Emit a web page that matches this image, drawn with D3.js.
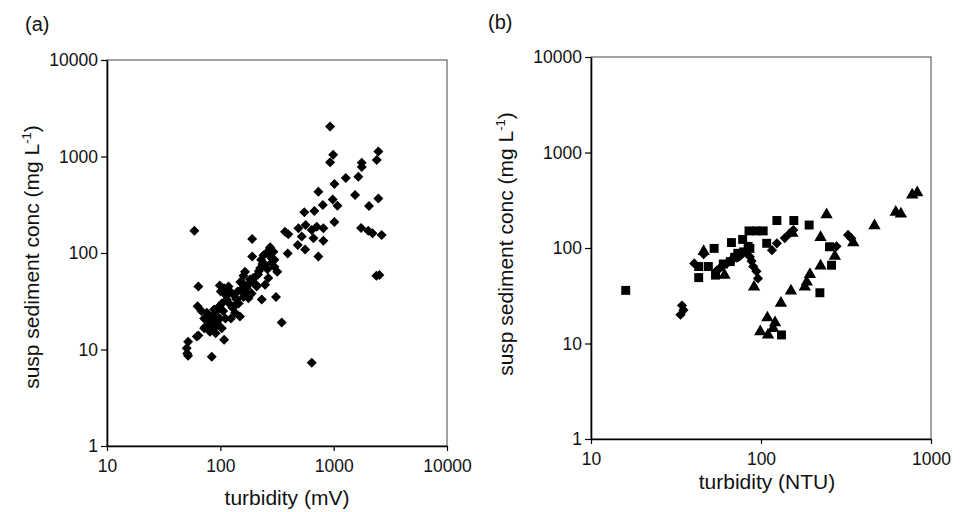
<!DOCTYPE html>
<html>
<head>
<meta charset="utf-8">
<script src="https://cdn.jsdelivr.net/npm/d3@7"></script>
<style>
  body { margin: 0; background: #fff; }
  svg text { font-family: "Liberation Sans", Arial, sans-serif; fill: #111; }
</style>
</head>
<body>
<div id="chart"></div>
<script>
// panel (a): turbidity (mV) vs susp sediment conc (mg/L)
let pointsA = [
  [59,170],[930,2050],[990,1040],[930,870],[2480,1130],[2400,920],[1770,860],[1770,780],
  [1650,618],[1280,600],[1545,399],[1015,520],[733,430],[980,358],[1080,309],[802,314],
  [551,264],[676,272],[1015,210],[2050,307],[2480,368],[1745,182],[2020,170],[2200,160],
  [2650,154],[2380,58],[2530,59],[641,7.3],[348,19],[310,35],[84,8.4],[108,12.6],
  [372,166],[398,156],[489,180],[566,195],[523,148],[640,173],[709,187],[811,180],
  [663,142],[811,134],[482,121],[560,109],[393,99],[733,92],[275,115],[294,103],
  [266,99],[284,88],[191,140],[191,92],[318,64],[265,55],[248,47],[232,33],[207,47],
  [189,52],[151,41],[165,64],[183,53],[160,48],[171,43],[189,38],[177,34],[209,45],
  [205,57],[219,65],[235,77],[229,85],[275,112],[250,75],[260,68],[285,80],[300,85],
  [240,95],[255,100],[225,70],[215,60],[300,72],
  [64,45],[63,28],[68,25],[72,21],[64,14],[62,13.6],[52,12],[50.5,10.3],[51,9.1],
  [52,8.6],[78,20],[72,16.6],[99,46],[108,43],[119,41],[130,37],[139,33],[133,28],
  [149,22],[135,24],[114,33],[103,30],[96,26],[106,25],[90,23],[99,21],[84,20],
  [93,19],[78,17.5],[87,16.6],[73,17],[81,15.3],[91,14.7],[103,16.6],[111,21],
  [124,21],[118,45],[101,40],[110,38],[120,30],[128,27],[95,18],[85,22],[76,24],
  [88,26],[98,28],[113,36],[142,40],[160,35],[170,38],[145,30],[180,48],[195,55],
  [160,58],[150,50]
];

// panel (b): turbidity (NTU), three symbol series
let squaresB = [
  [16,36],[43,49],[43,64],[49,64],[53,99],[54,52],[67,114],[78,123],[85,151],[94,151],
  [103,151],[86,99],[108,112],[124,194],[156,194],[192,174],[253,103],[260,66],[222,34],
  [132,12.3],[73,88],[79,91],[84,104],[66,72],[60,68],[70,80]
];
let diamondsB = [
  [34.3,25],[35,22.4],[33.6,20],[40.5,69],[46,86],[55,58],[59,64],[63,69],[67,75],
  [72,79],[77,86],[82,93],[86,81],[88,73],[90,64],[94,57],[96,48],[116,95],[124,112],
  [138,127],[148,143],[155,154],[278,104],[325,137],[340,126],[57,61],[69,78],[75,82]
];
let trianglesB = [
  [46,92],[61,52],[91,39],[153,143],[243,223],[224,129],[272,82],[224,65],[194,53],
  [186,44],[181,39],[150,35.5],[131,26.4],[109,18.6],[121,16.5],[99,13.3],[110,12.3],
  [118,14.4],[349,114],[465,171],[620,237],[665,228],[775,359],[830,379]
];

let yTicks = [1, 10, 100, 1000, 10000];
let xTicksA = [10, 100, 1000, 10000];
let xTicksB = [10, 100, 1000];

let svg = d3.select('#chart').append('svg')
  .attr('width', 969)
  .attr('height', 512);

function drawPanel(p) {
  let g = svg.append('g').attr('transform', `translate(${p.left}, ${p.top})`);

  let x = d3.scaleLog().domain(p.xDomain).range([0, p.width]);
  let y = d3.scaleLog().domain([1, 10000]).range([p.height, 0]);

  // thin frame for top / right
  g.append('rect')
    .attr('width', p.width).attr('height', p.height)
    .attr('fill', 'none').attr('stroke', '#444').attr('stroke-width', 1);

  let yAxis = d3.axisLeft(y).tickValues(yTicks).tickFormat(d3.format('d'))
    .tickSize(6).tickSizeOuter(0).tickPadding(3);
  let xAxis = d3.axisBottom(x).tickValues(p.xTicks).tickFormat(d3.format('d'))
    .tickSize(5).tickSizeOuter(0).tickPadding(9);

  let ya = g.append('g').call(yAxis);
  let xa = g.append('g').attr('transform', `translate(0, ${p.height})`).call(xAxis);
  [ya, xa].forEach(a => {
    a.select('.domain').attr('stroke', '#000').attr('stroke-width', 1.6);
    a.selectAll('.tick line').attr('stroke', '#000').attr('stroke-width', 1.2);
    a.selectAll('text').style('font-size', '17.5px').attr('fill', '#111');
  });

  // points
  p.series.forEach(s => {
    g.selectAll(null)
      .data(s.data)
      .enter()
      .append('path')
      .attr('d', d3.symbol().type(s.type).size(s.size))
      .attr('transform', d => `translate(${x(d[0])}, ${y(d[1])}) rotate(${s.rot || 0})`)
      .attr('fill', '#000');
  });

  // axis titles
  g.append('text')
    .attr('x', p.width / 2 + p.xTitleDx)
    .attr('y', p.xTitleY)
    .attr('text-anchor', 'middle')
    .style('font-size', '21px')
    .text(p.xTitle);

  let yt = g.append('text')
    .attr('transform', `translate(${p.yTitleX}, ${p.height / 2 + p.yTitleDy}) rotate(-90)`)
    .attr('text-anchor', 'middle')
    .style('font-size', '21px');
  yt.append('tspan').text('susp sediment conc (mg L');
  yt.append('tspan').attr('dy', -8).style('font-size', '13px').text('-1');
  yt.append('tspan').attr('dy', 8).text(')');

  svg.append('text')
    .attr('x', p.tagX).attr('y', p.tagY)
    .style('font-size', '20px')
    .text(p.tag);
}

drawPanel({
  left: 107, top: 60, width: 340, height: 386,
  xDomain: [10, 10000], xTicks: xTicksA,
  xTitle: 'turbidity (mV)', xTitleY: 445, xTitleDx: 10,
  yTitleX: -68, yTitleDy: 4,
  tag: '(a)', tagX: 25, tagY: 31,
  series: [{ data: pointsA, type: d3.symbolSquare, size: 50, rot: 45 }]
});

drawPanel({
  left: 591, top: 57, width: 340, height: 382,
  xDomain: [10, 1000], xTicks: xTicksB,
  xTitle: 'turbidity (NTU)', xTitleY: 432, xTitleDx: 6,
  yTitleX: -78, yTitleDy: -4,
  tag: '(b)', tagX: 488, tagY: 29,
  series: [
    { data: squaresB, type: d3.symbolSquare, size: 80 },
    { data: diamondsB, type: d3.symbolSquare, size: 52, rot: 45 },
    { data: trianglesB, type: d3.symbolTriangle, size: 66 }
  ]
});
</script>
</body>
</html>
